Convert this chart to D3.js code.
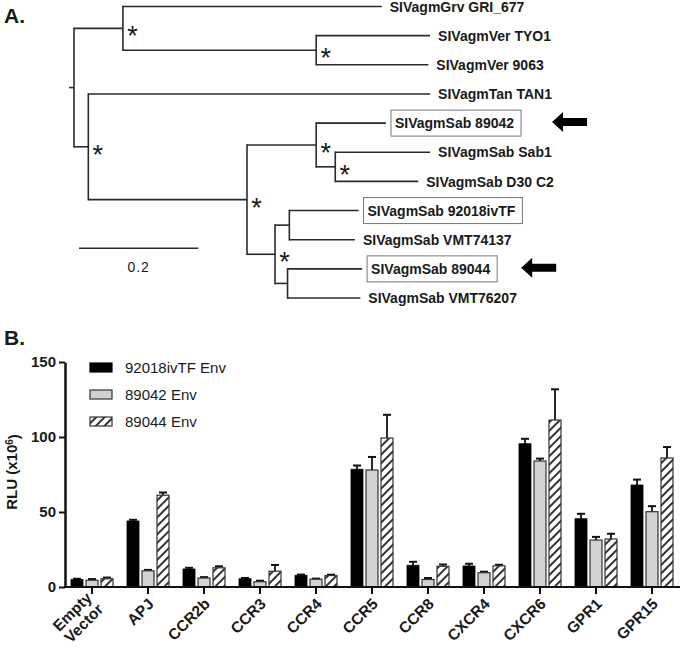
<!DOCTYPE html>
<html>
<head>
<meta charset="utf-8">
<script src="https://cdn.jsdelivr.net/npm/d3@7"></script>
<style>
  html, body { margin: 0; padding: 0; background: #fff; }
  svg { display: block; font-family: "Liberation Sans", Arial, Helvetica, sans-serif; }
</style>
</head>
<body>
<svg id="fig" width="680" height="653"></svg>
<script>
// ---------------- DATA ----------------
// Panel A: phylogenetic tree edges [id, parent, branch length]
const treeEdges = [
  ["root", "", 0],
  ["c1", "root", 0.082],
  ["SIVagmGrv GRI_677", "c1", 0.434],
  ["ver", "c1", 0.324],
  ["SIVagmVer TYO1", "ver", 0.191],
  ["SIVagmVer 9063", "ver", 0.188],
  ["c2", "root", 0.024],
  ["SIVagmTan TAN1", "c2", 0.573],
  ["sab", "c2", 0.266],
  ["sabA", "sab", 0.116],
  ["SIVagmSab 89042", "sabA", 0.117],
  ["sabA2", "sabA", 0.032],
  ["SIVagmSab Sab1", "sabA2", 0.159],
  ["SIVagmSab D30 C2", "sabA2", 0.139],
  ["sabB", "sab", 0.047],
  ["sabB1", "sabB", 0.024],
  ["SIVagmSab 92018ivTF", "sabB1", 0.116],
  ["SIVagmSab VMT74137", "sabB1", 0.110],
  ["sabB2", "sabB", 0.021],
  ["SIVagmSab 89044", "sabB2", 0.125],
  ["SIVagmSab VMT76207", "sabB2", 0.122]
];
const supportedNodes = ["c1", "ver", "c2", "sab", "sabA", "sabA2", "sabB"];
const boxedLeaves = ["SIVagmSab 89042", "SIVagmSab 92018ivTF", "SIVagmSab 89044"];
const arrowLeaves = ["SIVagmSab 89042", "SIVagmSab 89044"];
const scaleBarValue = 0.2;

// Panel B: grouped bar chart
const categories = ["Empty Vector", "APJ", "CCR2b", "CCR3", "CCR4", "CCR5", "CCR8", "CXCR4", "CXCR6", "GPR1", "GPR15"];
const seriesNames = ["92018ivTF Env", "89042 Env", "89044 Env"];
const values92018 = [5, 44, 12, 5.5, 7.8, 78.5, 14.5, 14, 95.5, 45.5, 68];
const errors92018 = [0.5, 0.8, 0.8, 0.5, 0.5, 2.5, 2.3, 1.5, 3.3, 3.3, 3.6];
const values89042 = [4.5, 10.8, 6, 3.5, 5.2, 78, 5, 9.5, 84, 31.3, 50.2];
const errors89042 = [0.8, 0.6, 0.6, 0.7, 0.4, 8.7, 1.0, 0.7, 1.6, 2.1, 3.7];
const values89044 = [5.5, 61.2, 12.8, 10.5, 7.6, 99.3, 13.8, 14.1, 111.3, 32, 86];
const errors89044 = [0.8, 1.8, 1.0, 4.2, 0.6, 15.5, 1.2, 0.7, 20.5, 3.5, 7.3];
const yTicks = [0, 50, 100, 150];

// ---------------- DRAW ----------------
const svg = d3.select("#fig");
const ink = "#1a1a1a";

// Panel labels
svg.append("text").attr("x", 4).attr("y", 23).attr("font-size", 21).attr("font-weight", "bold").attr("fill", ink).text("A.");
svg.append("text").attr("x", 4).attr("y", 345).attr("font-size", 21).attr("font-weight", "bold").attr("fill", ink).text("B.");

// ---- Tree ----
const root = d3.stratify()
  .id(d => d[0])
  .parentId(d => d[1] === "" ? null : d[1])(treeEdges);

root.each(n => { n.dist = n.parent ? n.parent.dist + n.data[2] : 0; });
const leaves = root.leaves();
const yLeaf = d3.scalePoint().domain(leaves.map(l => l.id)).range([6.5, 298]);
const xTree = d3.scaleLinear().domain([0, 0.2]).range([74, 193.3]);

root.eachAfter(n => {
  if (!n.children) n.py = yLeaf(n.id);
  else n.py = (n.children[0].py + n.children[n.children.length - 1].py) / 2;
  n.px = xTree(n.dist);
});

const gT = svg.append("g");
const treeStroke = { stroke: "#2a2a2a", width: 1.6 };
// horizontal branches
root.descendants().filter(n => n.parent).forEach(n => {
  gT.append("line")
    .attr("x1", n.parent.px).attr("x2", n.px)
    .attr("y1", n.py).attr("y2", n.py)
    .attr("stroke", treeStroke.stroke).attr("stroke-width", treeStroke.width);
});
// vertical connectors
root.descendants().filter(n => n.children).forEach(n => {
  const c = n.children;
  gT.append("line")
    .attr("x1", n.px).attr("x2", n.px)
    .attr("y1", c[0].py - 0.8).attr("y2", c[c.length - 1].py + 0.8)
    .attr("stroke", treeStroke.stroke).attr("stroke-width", treeStroke.width);
});
// root stub
gT.append("line")
  .attr("x1", root.px - 5).attr("x2", root.px)
  .attr("y1", root.py).attr("y2", root.py)
  .attr("stroke", treeStroke.stroke).attr("stroke-width", treeStroke.width);

// support asterisks
root.descendants().filter(n => supportedNodes.includes(n.id)).forEach(n => {
  gT.append("text")
    .attr("x", n.px + 9.5).attr("y", n.py + 17)
    .attr("text-anchor", "middle")
    .attr("font-size", 27).attr("fill", ink)
    .text("*");
});

// leaf labels
leaves.forEach(l => {
  const boxed = boxedLeaves.includes(l.id);
  const tx = l.px + (boxed ? 9 : 8);
  const t = gT.append("text")
    .attr("x", tx).attr("y", l.py + 5.2)
    .attr("font-size", 14).attr("font-weight", "bold").attr("fill", ink)
    .text(l.id);
  if (boxed) {
    const w = t.node().getComputedTextLength();
    gT.insert("rect", "text")
      .attr("x", l.px + 5).attr("y", l.py - 13)
      .attr("width", w + 11).attr("height", 26)
      .attr("fill", "none").attr("stroke", "#777").attr("stroke-width", 1);
    l.boxRight = l.px + 5 + w + 11;
  }
});

// arrows
const arrowGaps = [31, 24];
arrowLeaves.forEach((id, i) => {
  const l = leaves.find(d => d.id === id);
  const tx = l.boxRight + arrowGaps[i];
  const y = l.py - 1;
  const p = d3.path();
  p.moveTo(tx, y);
  p.lineTo(tx + 11, y - 10);
  p.lineTo(tx + 11, y - 4);
  p.lineTo(tx + 35, y - 4);
  p.lineTo(tx + 35, y + 4);
  p.lineTo(tx + 11, y + 4);
  p.lineTo(tx + 11, y + 10);
  p.closePath();
  gT.append("path").attr("d", p.toString()).attr("fill", "#000");
});

// scale bar
const sbX = 79, sbY = 248.3;
const sbLen = xTree(scaleBarValue) - xTree(0);
gT.append("line").attr("x1", sbX).attr("x2", sbX + sbLen).attr("y1", sbY).attr("y2", sbY)
  .attr("stroke", treeStroke.stroke).attr("stroke-width", 1.6);
gT.append("text").attr("x", sbX + sbLen / 2).attr("y", sbY + 24)
  .attr("text-anchor", "middle").attr("font-size", 14).attr("fill", ink)
  .attr("letter-spacing", 1)
  .text(String(scaleBarValue));

// ---- Bar chart ----
const defs = svg.append("defs");
const pat = defs.append("pattern")
  .attr("id", "hatch").attr("patternUnits", "userSpaceOnUse")
  .attr("width", 6).attr("height", 6)
  .attr("patternTransform", "rotate(45)");
pat.append("rect").attr("width", 6).attr("height", 6).attr("fill", "#fff");
pat.append("line").attr("x1", 3).attr("x2", 3).attr("y1", 0).attr("y2", 6)
  .attr("stroke", "#333").attr("stroke-width", 2);

const fills = ["#000", "#d2d2d2", "url(#hatch)"];
const strokes = ["#000", "#333", "#333"];
const seriesVals = [values92018, values89042, values89044];
const seriesErrs = [errors92018, errors89042, errors89044];

const x0 = d3.scaleBand().domain(categories).range([64, 680]).paddingInner(0).paddingOuter(0);
const x1 = d3.scaleBand().domain([0, 1, 2]).range([7, 49]).paddingInner(0.2).paddingOuter(0);
const y = d3.scaleLinear().domain([0, 150]).range([587, 362]);

const gB = svg.append("g");

// bars
categories.forEach((cat, ci) => {
  [0, 1, 2].forEach(si => {
    const v = seriesVals[si][ci];
    const e = seriesErrs[si][ci];
    const bx = x0(cat) + x1(si);
    const bw = x1.bandwidth();
    const cx = bx + bw / 2;
    // error bar (upper only)
    gB.append("line").attr("x1", cx).attr("x2", cx).attr("y1", y(v)).attr("y2", y(v + e))
      .attr("stroke", "#111").attr("stroke-width", 1.8);
    gB.append("line").attr("x1", cx - 4).attr("x2", cx + 4).attr("y1", y(v + e)).attr("y2", y(v + e))
      .attr("stroke", "#111").attr("stroke-width", 2);
    gB.append("rect")
      .attr("x", bx).attr("y", y(v)).attr("width", bw).attr("height", y(0) - y(v))
      .attr("fill", fills[si]).attr("stroke", strokes[si]).attr("stroke-width", si === 0 ? 0.8 : 1.2);
  });
});

// y axis
const yAxis = gB.append("g").attr("transform", "translate(65,0)")
  .call(d3.axisLeft(y).tickValues(yTicks).tickSize(6).tickSizeOuter(0).tickPadding(3));
yAxis.select(".domain").attr("stroke", "#111").attr("stroke-width", 2.5);
yAxis.selectAll(".tick line").attr("stroke", "#111").attr("stroke-width", 2);
yAxis.selectAll(".tick text").attr("font-size", 15).attr("font-weight", "bold").attr("fill", ink)
  .attr("font-family", "Liberation Sans, Arial, sans-serif");

// x axis
const xAxis = gB.append("g").attr("transform", "translate(0,587)")
  .call(d3.axisBottom(x0).tickSize(7).tickSizeOuter(0).tickFormat(""));
xAxis.select(".domain").attr("stroke", "#111").attr("stroke-width", 2.2)
  .attr("d", "M64,0H680");
xAxis.selectAll(".tick line").attr("stroke", "#111").attr("stroke-width", 2);

// x labels rotated
categories.forEach(cat => {
  const cx = x0(cat) + x0.bandwidth() / 2;
  const lines = cat.split(" ");
  const t = gB.append("text")
    .attr("transform", `translate(${cx + 3},601) rotate(-45)`)
    .attr("text-anchor", "end")
    .attr("font-size", 15.5).attr("font-weight", "bold").attr("fill", ink);
  lines.forEach((ln, i) => {
    t.append("tspan").attr("x", 0)
      .attr("dy", i === 0 ? (lines.length > 1 ? "-0.2em" : "0.35em") : "1.05em")
      .text(ln);
  });
});

// y label
const yl = gB.append("text")
  .attr("transform", "translate(17,472) rotate(-90)")
  .attr("text-anchor", "middle").attr("font-size", 15).attr("font-weight", "bold").attr("fill", ink);
yl.append("tspan").text("RLU (x10");
yl.append("tspan").attr("dy", "-0.45em").attr("font-size", 10).text("6");
yl.append("tspan").attr("dy", "0.45em").text(")");

// legend
const legend = gB.append("g");
seriesNames.forEach((name, i) => {
  const ly = 363 + i * 27;
  legend.append("rect").attr("x", 90).attr("y", ly).attr("width", 22).attr("height", 9)
    .attr("fill", fills[i]).attr("stroke", strokes[i]).attr("stroke-width", 1.2);
  legend.append("text").attr("x", 125).attr("y", ly + 10).attr("font-size", 15).attr("fill", ink).text(name);
});
</script>
</body>
</html>
